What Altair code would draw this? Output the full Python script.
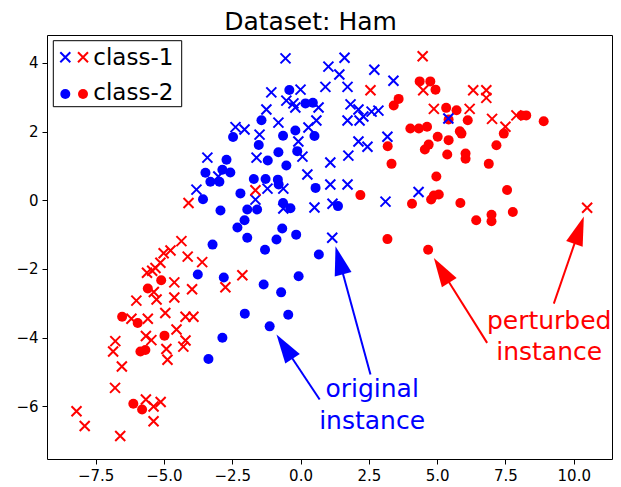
import math
import altair as alt
import pandas as pd

# ---------------- data ----------------
blue_cross_x = [-0.55, 1.02, 1.61, 1.42, 2.70, 3.40, 0.00, 0.91, 1.72, -1.07,
                -0.52, -0.26, -0.19, 0.66, 1.83, 2.12, 2.60, 2.85, 2.30, 1.72,
                2.16, 0.58, 0.29, -0.81, -1.25, -2.38, -2.05, -1.50, -0.08, 0.07,
                2.12, 2.45, 3.18, 1.09, 1.75, -3.41, -1.61, -3.01, 0.25, -1.21,
                -0.63, 1.09, 1.72, 3.11, -1.65, 0.51, 1.17, -0.63, -3.81, 1.16,
                5.41, 4.32]
blue_cross_y = [4.13, 3.89, 4.15, 3.66, 3.80, 3.48, 3.22, 3.30, 3.30, 3.14,
                2.90, 2.82, 2.70, 2.70, 2.79, 2.64, 2.58, 2.61, 2.44, 2.32,
                2.32, 2.32, 2.12, 2.26, 2.64, 2.13, 2.06, 1.91, 1.71, 1.27,
                1.71, 1.56, 1.85, 1.10, 1.30, 1.24, 1.24, 0.69, 0.75, 0.34,
                0.34, 0.46, 0.46, -0.04, 0.02, -0.21, -0.10, -0.24, 0.31, -1.09,
                2.38, 0.24]

blue_dot_x = [-0.41, 0.18, 0.45, -0.64, -0.19, 0.51, -0.81, -0.12, -0.52, -1.20,
              -1.43, -2.47, -1.53, -2.71, -3.48, -3.30, -2.97, -2.86, -2.57, -1.71,
              -1.28, -0.83, -2.20, -3.57, -2.93, -1.95, -1.59, -2.05, -2.31, -0.67,
              -0.37, -0.64, -0.80, 0.55, 1.37, -1.95, -0.88, -0.16, -3.22, -1.30,
              0.67, -3.76, -2.81, -1.35, -0.71, -0.07, -2.04, -0.45, -1.13, -2.86,
              -3.37]
blue_dot_y = [3.21, 2.82, 2.84, 1.88, 2.03, 1.87, 1.40, 1.43, 1.01, 1.16,
              2.33, 1.84, 1.61, 1.18, 0.80, 0.54, 0.54, 0.89, 0.81, 0.62,
              0.62, 0.60, 0.20, 0.03, -0.30, -0.27, -0.27, -0.58, -0.79, -0.82,
              -0.23, -0.08, 0.46, 0.36, -0.17, -1.09, -1.14, -1.00, -1.29, -1.44,
              -1.58, -2.16, -2.25, -2.45, -2.68, -2.21, -3.30, -3.33, -3.67, -4.00,
              -4.62]

red_cross_x = [4.47, 4.49, 6.32, 6.80, 6.80, 4.88, 6.19, 7.01, 7.90, 7.50,
               2.56, -1.65, -4.10, 10.49, -2.13, -2.75, -4.36, -4.76, -5.01, -4.13,
               -3.60, -5.13, -5.31, -5.62, -5.43, -4.62, -3.97, -5.37, -5.27, -6.01,
               -4.62, -4.95, -4.21, -3.92, -5.59, -6.19, -4.54, -5.66, -5.46, -6.78,
               -6.86, -4.21, -4.29, -4.91, -4.87, -6.54, -6.79, -5.66, -5.38, -5.12,
               -8.20, -7.90, -5.38, -6.60]
red_cross_y = [4.19, 3.20, 3.20, 3.20, 2.98, 2.66, 2.66, 2.37, 2.47, 2.14,
               3.20, 0.29, -0.08, -0.22, -2.18, -2.53, -1.19, -1.46, -1.54, -1.64,
               -1.80, -1.82, -1.97, -2.11, -2.05, -2.39, -2.59, -2.67, -2.89, -2.92,
               -2.83, -3.28, -3.39, -3.39, -3.45, -3.45, -3.76, -3.95, -4.07, -4.10,
               -4.40, -4.08, -4.26, -4.33, -4.64, -4.84, -5.46, -5.80, -6.00, -5.87,
               -6.14, -6.57, -6.43, -6.86]

red_dot_x = [4.36, 4.75, 4.94, 3.59, 3.41, 5.33, 5.71, 5.42, 6.12, 8.26,
             8.09, 8.90, 4.02, 4.33, 4.63, 5.02, 5.42, 5.83, 5.89, 7.44,
             7.17, 3.19, 4.69, 4.55, 5.37, 6.04, 6.04, 6.89, 3.33, 4.97,
             7.56, 4.88, 5.06, 4.78, 4.08, 5.85, 6.43, 6.99, 6.99, 7.77,
             2.19, 3.18, 4.67, -5.10, -5.59, -6.53, -5.96, -4.98, -5.86, -5.68,
             -6.12, -5.80]
red_dot_y = [3.46, 3.46, 3.22, 2.95, 2.76, 2.69, 2.62, 2.35, 2.33, 2.47,
             2.47, 2.30, 2.09, 2.09, 2.14, 1.85, 1.75, 2.01, 1.94, 1.94,
             1.60, 1.57, 1.62, 1.48, 1.33, 1.36, 1.21, 1.06, 1.06, 0.69,
             0.30, 0.14, 0.17, 0.02, -0.10, -0.08, -0.58, -0.42, -0.61, -0.34,
             0.15, -1.13, -1.44, -2.33, -2.57, -3.39, -3.57, -3.94, -4.40, -4.36,
             -5.92, -6.09]

x_ticks = [-7.5, -5.0, -2.5, 0.0, 2.5, 5.0, 7.5, 10.0]
y_ticks = [-6, -4, -2, 0, 2, 4]

# annotations (data coordinates): arrow tails / tips and text lines
arrow_tail_x = [0.70, 2.56, 6.83, 9.27]
arrow_tail_y = [-5.80, -5.07, -4.15, -3.01]
arrow_tip_x = [-0.88, 1.28, 4.88, 10.37]
arrow_tip_y = [-3.91, -1.34, -1.68, -0.47]
arrow_color = ["#0000ff", "#0000ff", "#ff0000", "#ff0000"]

label_text = ["original", "instance", "perturbed", "instance"]
label_x = [2.62, 2.62, 9.10, 9.10]
label_y = [-5.74, -6.65, -3.74, -4.64]
label_color = ["#0000ff", "#0000ff", "#ff0000", "#ff0000"]

title_text = "Dataset: Ham"
legend_labels = ["class-1", "class-2"]

# ---------------- styling ----------------
X_DOMAIN = [-9.28, 11.40]
Y_DOMAIN = [-7.53, 4.81]
W, H = 565, 424
BLUE = "#0000ff"
RED = "#ff0000"
FONT = "DejaVu Sans"
XSHAPE = "M-1,-1L1,1M-1,1L1,-1"
HEAD = "M0,0L-0.3,1L0.3,1Z"
HEAD_LEN = 29.0

xs = alt.Scale(domain=X_DOMAIN, nice=False, zero=False)
ys = alt.Scale(domain=Y_DOMAIN, nice=False, zero=False)
xax = alt.Axis(values=x_ticks, format=".1f", title=None)
yax = alt.Axis(values=y_ticks, format="d", title=None)


def enc_xy():
    return dict(x=alt.X("x:Q", scale=xs, axis=xax),
                y=alt.Y("y:Q", scale=ys, axis=yax))


def df(xv, yv):
    return pd.DataFrame({"x": xv, "y": yv})


blue_dots = alt.Chart(df(blue_dot_x, blue_dot_y)).mark_circle(
    size=100, opacity=1, color=BLUE).encode(**enc_xy())
red_dots = alt.Chart(df(red_dot_x, red_dot_y)).mark_circle(
    size=100, opacity=1, color=RED).encode(**enc_xy())
blue_cross = alt.Chart(df(blue_cross_x, blue_cross_y)).mark_point(
    shape=XSHAPE, size=100, filled=False, strokeWidth=2, opacity=1,
    color=BLUE).encode(**enc_xy())
red_cross = alt.Chart(df(red_cross_x, red_cross_y)).mark_point(
    shape=XSHAPE, size=100, filled=False, strokeWidth=2, opacity=1,
    color=RED).encode(**enc_xy())

# arrows
kx = W / (X_DOMAIN[1] - X_DOMAIN[0])
ky = H / (Y_DOMAIN[1] - Y_DOMAIN[0])
rows = []
for tx, ty, px, py, c in zip(arrow_tail_x, arrow_tail_y, arrow_tip_x,
                             arrow_tip_y, arrow_color):
    dxp = (px - tx) * kx
    dyp = -(py - ty) * ky
    L = math.hypot(dxp, dyp)
    ang = math.degrees(math.atan2(dxp, -dyp)) % 360
    f = (HEAD_LEN * 0.7) / L
    rows.append(dict(x=tx, y=ty, ex=px - (px - tx) * f, ey=py - (py - ty) * f,
                     tipx=px, tipy=py, angle=ang, color=c))
arrows_df = pd.DataFrame(rows)

shafts = alt.Chart(arrows_df).mark_rule(strokeWidth=2).encode(
    x=alt.X("x:Q", scale=xs, axis=xax), y=alt.Y("y:Q", scale=ys, axis=yax),
    x2="ex:Q", y2="ey:Q", color=alt.Color("color:N", scale=None))
heads = alt.Chart(arrows_df).mark_point(
    shape=HEAD, size=(2 * HEAD_LEN) ** 2, filled=True, opacity=1,
    strokeWidth=0).encode(
    x=alt.X("tipx:Q", scale=xs, axis=xax), y=alt.Y("tipy:Q", scale=ys, axis=yax),
    angle=alt.Angle("angle:Q", scale=None),
    color=alt.Color("color:N", scale=None))

labels_df = pd.DataFrame({"x": label_x, "y": label_y, "text": label_text,
                          "color": label_color})
labels = alt.Chart(labels_df).mark_text(
    font=FONT, fontSize=25, align="center", baseline="alphabetic").encode(
    x=alt.X("x:Q", scale=xs, axis=xax), y=alt.Y("y:Q", scale=ys, axis=yax),
    text="text:N", color=alt.Color("color:N", scale=None))

one = pd.DataFrame({"a": [0]})

title = alt.Chart(one).mark_text(
    font=FONT, fontSize=25, align="center", baseline="alphabetic",
    color="black").encode(x=alt.value(263.5), y=alt.value(-5.5),
                          text=alt.value(title_text))

# manual legend (two markers per entry)
leg_box = alt.Chart(one).mark_rect(fill="white", stroke="black",
                                   strokeWidth=1).encode(
    x=alt.value(6.3), x2=alt.value(134.7), y=alt.value(5.7), y2=alt.value(71.7))
leg_items = []
for mx, col in [(18.3, BLUE), (36.0, RED)]:
    leg_items.append(alt.Chart(one).mark_point(
        shape=XSHAPE, size=100, filled=False, strokeWidth=2, opacity=1,
        color=col).encode(x=alt.value(mx), y=alt.value(22.3)))
    leg_items.append(alt.Chart(one).mark_circle(
        size=100, opacity=1, color=col).encode(x=alt.value(mx), y=alt.value(59.0)))
leg_text = [
    alt.Chart(one).mark_text(font=FONT, fontSize=23, align="left",
                             baseline="alphabetic", color="black").encode(
        x=alt.value(46.3), y=alt.value(yy), text=alt.value(t))
    for t, yy in zip(legend_labels, [29.6, 65.3])
]

chart = alt.layer(
    blue_dots, red_dots, blue_cross, red_cross, shafts, heads, labels, title,
    leg_box, *leg_items, *leg_text
).properties(
    width=W, height=H,
    padding={"left": 39, "top": 27, "right": 1, "bottom": 28},
    autosize=alt.AutoSizeParams(type="none"),
).configure_view(
    stroke="black", strokeWidth=1
).configure_axis(
    labelFont=FONT, labelFontSize=15, labelColor="black", tickColor="black",
    tickSize=5, tickWidth=1, domain=False, grid=False, labelPadding=4
)

chart.save("out.html", embed_options={"renderer": "svg", "actions": False})
